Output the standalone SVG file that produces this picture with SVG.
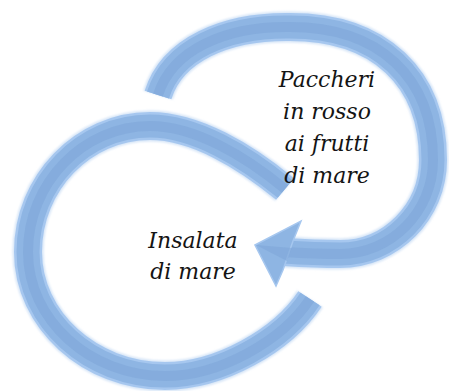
<svg xmlns="http://www.w3.org/2000/svg" width="449" height="391" viewBox="0 0 449 391">
<defs>
<filter id="soft" x="-10%" y="-10%" width="120%" height="120%"><feGaussianBlur stdDeviation="1.2"/></filter>
<path id="arcA" d="M158,95 C172,50 225,26 290,27 C380,27 433,78 433,160 C433,212 391,254 340,254 C320,254 300,253 284,252"/>
<path id="arcB" d="M285,189 C245,156 195,126 150,126 C83,126 28,183 28,252 C28,320 90,376 165,376 C220,376 282.5,340.5 310,299"/>
</defs>
<style>
.glow{fill:none;stroke:#D6E5F7;stroke-width:31;filter:url(#soft)}
.edge{fill:none;stroke:#A6C7EF;stroke-width:28}
.main{fill:none;stroke:#8EB5E3;stroke-width:23}
.dark{fill:none;stroke:#7FA6D8;stroke-width:10;opacity:0.6}
.head{fill:#8EB5E3;stroke:#A6C7EF;stroke-width:1.5;stroke-linejoin:miter}
.facet{fill:#7FA6D8;opacity:0.6}
</style>
<rect width="449" height="391" fill="#FFFFFF"/>
<g id="connectors">
<g id="arrow-b">
<use href="#arcB" class="glow"/>
<use href="#arcB" class="edge"/>
<use href="#arcB" class="main"/>
<use href="#arcB" class="dark"/>
</g>
<g id="arrow-a">
<use href="#arcA" class="glow"/>
<use href="#arcA" class="edge"/>
<use href="#arcA" class="main"/>
<use href="#arcA" class="dark"/>
<polygon class="head" points="255,245 301,221 293,241 283,270 276,286"/>
<polygon class="facet" points="256,245 292,248 287,261"/>
</g>
</g>
<g font-family="DejaVu Serif" font-style="italic" font-size="22" fill="#141414" text-anchor="middle">
<g id="node-paccheri">
<text x="327" y="87">Paccheri</text>
<text x="327" y="119">in rosso</text>
<text x="327" y="151">ai frutti</text>
<text x="327" y="183">di mare</text>
</g>
<g id="node-insalata">
<text x="193" y="248">Insalata</text>
<text x="193" y="279">di mare</text>
</g>
</g>
</svg>
